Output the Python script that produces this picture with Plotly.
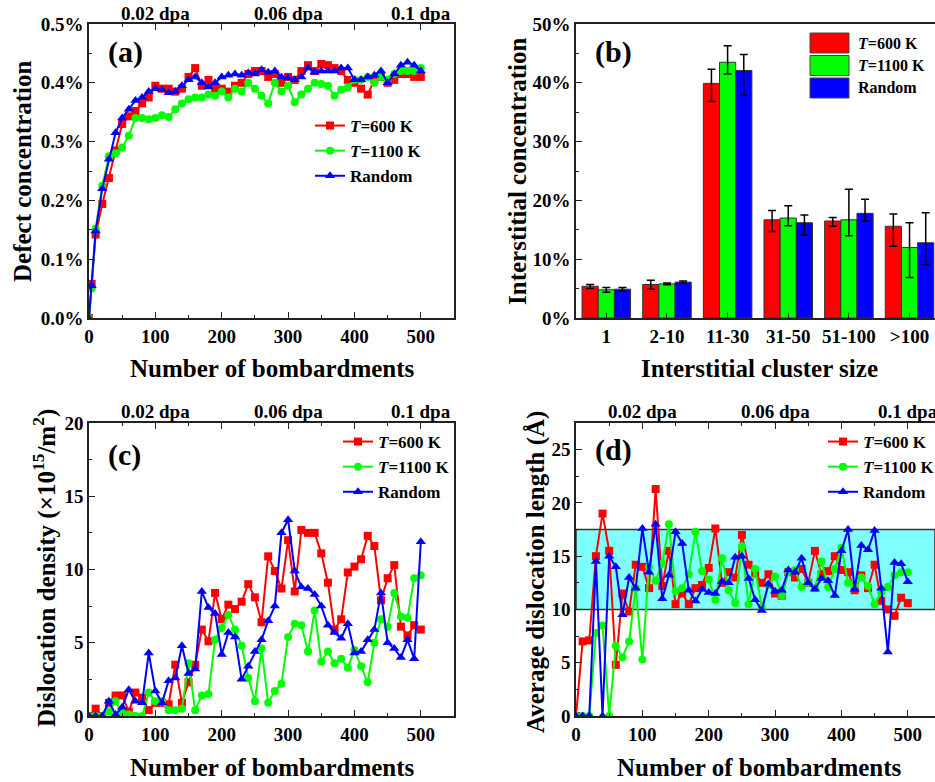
import plotly.graph_objects as go

W, H = 935, 782
FONT = "Liberation Serif"
RED, GREEN, BLUE = "#FF0000", "#00FF00", "#0000FF"

# ---------------- data ----------------
# (a) defect concentration (%), bombardments
n_a = [0, 4] + list(range(10, 501, 10))
red_a = [0.0, 0.058, 0.142, 0.194, 0.238, 0.285, 0.33, 0.343, 0.352, 0.365, 0.375, 0.395,
         0.39, 0.39, 0.385, 0.39, 0.41, 0.425, 0.395, 0.405, 0.39, 0.39,
         0.385, 0.395, 0.40, 0.415, 0.42, 0.42, 0.41, 0.415, 0.40, 0.41,
         0.405, 0.42, 0.43, 0.42, 0.432, 0.43, 0.425, 0.42, 0.405, 0.40,
         0.39, 0.38, 0.405, 0.41, 0.40, 0.405, 0.415, 0.415, 0.41, 0.41]
green_a = [0.0, 0.05, 0.152, 0.225, 0.275, 0.28, 0.29, 0.31, 0.34, 0.34, 0.338, 0.34,
           0.345, 0.342, 0.355, 0.365, 0.372, 0.375, 0.375, 0.38, 0.378, 0.385,
           0.375, 0.39, 0.385, 0.40, 0.39, 0.378, 0.365, 0.40, 0.385, 0.395,
           0.367, 0.38, 0.39, 0.40, 0.398, 0.395, 0.378, 0.388, 0.392, 0.405,
           0.405, 0.41, 0.40, 0.41, 0.405, 0.415, 0.42, 0.42, 0.42, 0.425]
blue_a = [0.0, 0.055, 0.148, 0.22, 0.27, 0.315, 0.34, 0.355, 0.37, 0.375, 0.385, 0.39,
          0.388, 0.383, 0.385, 0.395, 0.405, 0.41, 0.40, 0.393, 0.40, 0.41,
          0.413, 0.415, 0.413, 0.417, 0.415, 0.422, 0.418, 0.42, 0.41, 0.408,
          0.405, 0.41, 0.425, 0.418, 0.42, 0.42, 0.42, 0.425, 0.425, 0.405,
          0.405, 0.41, 0.413, 0.42, 0.40, 0.415, 0.43, 0.435, 0.43, 0.42]

# (b) interstitial concentration (%) by cluster size
cats_b = ["1", "2-10", "11-30", "31-50", "51-100", ">100"]
red_b = [5.4, 5.7, 39.9, 16.7, 16.5, 15.6]
red_b_up = [0.3, 0.7, 2.4, 1.6, 0.6, 2.1]
red_b_dn = [0.4, 0.8, 3.1, 2.0, 0.9, 3.4]
green_b = [4.8, 5.8, 43.5, 17.0, 16.7, 12.0]
green_b_up = [0.4, 0.15, 2.8, 2.1, 5.2, 4.2]
green_b_dn = [0.4, 0.15, 2.0, 1.3, 2.7, 5.1]
blue_b = [4.9, 6.1, 42.1, 16.2, 17.8, 12.8]
blue_b_up = [0.3, 0.2, 2.7, 1.3, 2.4, 5.1]
blue_b_dn = [0.3, 0.2, 4.2, 2.1, 1.3, 3.7]

# (c) dislocation density, (d) average dislocation length
n_cd = list(range(0, 501, 10))
red_c = [0, 0.5, 0.0, 0.9, 1.4, 1.4, 0.3, 1.6, 1.25, 0.4, 0.9,
         0.9, 0.8, 3.5, 0.9, 2.3, 3.5, 5.9, 5.1, 8.4, 6.6,
         7.6, 7.3, 7.8, 9.0, 8.1, 6.4, 10.9, 9.9, 8.7, 12.0,
         8.5, 12.7, 12.5, 12.5, 11.1, 9.1, 5.9, 6.6, 9.8, 10.2,
         10.7, 12.3, 11.6, 7.9, 9.4, 10.3, 6.1, 5.5, 6.2, 5.9]
green_c = [0, 0, 0, 0.3, 1.0, 0.2, 0.1, 0, 0, 1.6, 1.0,
           1.0, 0.4, 0.4, 0.5, 3.6, 0.4, 1.4, 1.5, 5.2, 6.0,
           6.9, 5.9, 4.8, 2.6, 1.0, 4.6, 0.9, 1.7, 2.2, 5.4,
           6.3, 6.2, 4.4, 7.2, 3.7, 4.4, 3.6, 3.9, 3.3, 4.5,
           3.4, 2.3, 5.0, 6.6, 6.1, 8.4, 6.8, 6.7, 9.4, 9.6]
blue_c = [0, 0, 0, 1.0, 0.1, 0.6, 1.8, 1.0, 0.9, 4.3, 1.7,
          0.9, 2.4, 2.6, 4.8, 2.9, 3.2, 8.5, 7.4, 7.0, 4.2,
          5.7, 5.4, 2.5, 3.4, 4.4, 5.2, 6.5, 7.5, 12.5, 13.4,
          9.9, 8.8, 8.7, 8.3, 7.5, 6.2, 5.7, 5.3, 6.3, 4.3,
          4.4, 5.2, 5.9, 8.4, 5.0, 4.6, 4.0, 5.2, 3.9, 11.9]
red_d = [0, 7.0, 7.1, 15.0, 19.0, 15.5, 4.8, 11.5, 9.8, 14.2, 14.0,
         12.0, 21.3, 12.2, 15.5, 10.5, 11.5, 10.5, 12.0, 12.3, 13.9,
         17.6, 12.5, 13.5, 13.0, 17.0, 14.2, 13.4, 12.5, 13.3, 11.5,
         11.3, 13.5, 13.0, 13.8, 12.5, 15.5, 13.3, 13.6, 15.0, 13.7,
         13.5, 11.8, 13.2, 12.0, 14.2, 10.8, 10.0, 9.4, 11.1, 10.6]
green_d = [0, 0, 0, 7.8, 8.5, 0, 6.6, 5.5, 7.0, 12.0, 5.3,
           14.0, 12.7, 14.3, 18.0, 11.7, 12.0, 13.3, 17.3, 13.6, 12.8,
           10.9, 14.8, 11.8, 10.6, 15.9, 10.5, 13.8, 10.2, 12.3, 13.1,
           11.3, 13.5, 13.7, 12.1, 12.5, 12.0, 14.5, 12.1, 13.8, 15.8,
           12.5, 12.2, 13.0, 12.2, 10.5, 11.6, 12.1, 13.2, 13.5, 13.5]
blue_d = [0, 0, 0, 14.5, 0, 15.0, 14.0, 9.5, 13.0, 12.0, 17.6,
          13.5, 18.0, 11.0, 13.2, 17.3, 16.2, 11.8, 10.8, 11.9, 11.6,
          11.5, 12.6, 12.5, 14.9, 15.0, 12.9, 10.9, 9.9, 12.4, 11.7,
          11.8, 13.7, 13.5, 14.8, 12.5, 11.9, 12.9, 12.7, 11.3, 15.5,
          17.5, 11.9, 16.0, 15.6, 17.4, 12.0, 6.0, 14.4, 14.3, 12.6]
band_low, band_high = 10, 17.5

dpa_ticks = [100, 300, 500]
dpa_labels = ["0.02 dpa", "0.06 dpa", "0.1 dpa"]
series_names = ["<b><i>T</i>=600 K</b>", "<b><i>T</i>=1100 K</b>", "<b>Random</b>"]

# ---------------- helpers ----------------
def fx(p):
    return p / W

def fy(p):
    return 1 - p / H

fig = go.Figure()

def add_lines(xs, ys_list, xa, ya, legend):
    syms = ["square", "circle", "triangle-up"]
    sizes = [8, 8, 9]
    for ys, col, sym, sz, nm in zip(ys_list, [RED, GREEN, BLUE], syms, sizes, series_names):
        fig.add_trace(go.Scatter(
            x=xs, y=ys, mode="lines+markers", name=nm,
            line=dict(color=col, width=2),
            marker=dict(symbol=sym, size=sz, color=col, line=dict(width=0)),
            xaxis=xa, yaxis=ya, legend=legend, cliponaxis=True))

add_lines(n_a, [red_a, green_a, blue_a], "x", "y", "legend")
add_lines(n_cd, [red_c, green_c, blue_c], "x3", "y3", "legend2")
add_lines(n_cd, [red_d, green_d, blue_d], "x4", "y4", "legend3")

for vals, up, dn, col, nm in [(red_b, red_b_up, red_b_dn, RED, "T=600 K"),
                              (green_b, green_b_up, green_b_dn, GREEN, "T=1100 K"),
                              (blue_b, blue_b_up, blue_b_dn, BLUE, "Random")]:
    fig.add_trace(go.Bar(
        x=cats_b, y=vals, name=nm, showlegend=False,
        marker=dict(color=col, line=dict(color="#333333", width=1)),
        error_y=dict(type="data", symmetric=False, array=up, arrayminus=dn,
                     color="black", thickness=1.5, width=4),
        xaxis="x2", yaxis="y2"))

tickfont = dict(family=FONT, size=19, color="black", weight="bold")
base = dict(showline=True, linecolor="#222222", linewidth=1.5, ticks="inside",
            ticklen=6, tickwidth=1.3, tickcolor="#222222", showgrid=False,
            zeroline=False, tickfont=tickfont, fixedrange=True, automargin=False)

def xnum(domain, rng):
    d = dict(base)
    d.update(domain=domain, range=rng, dtick=100, tick0=0, mirror="ticks",
             minor=dict(dtick=50, tick0=0, ticks="inside", ticklen=3, tickcolor="#222222"))
    return d

def ynum(domain, rng, dtick, minor, mirror, **kw):
    d = dict(base)
    d.update(domain=domain, range=rng, dtick=dtick, tick0=0, mirror=mirror,
             minor=dict(dtick=minor, tick0=0, ticks="inside", ticklen=3, tickcolor="#222222"))
    d.update(kw)
    return d

dom_top = [fy(318), fy(24)]
dom_bot = [fy(716), fy(423)]
dom_left = [fx(89), fx(454)]
dom_right = [fx(576), 1.0]

xb = dict(base)
xb.update(domain=dom_right, range=[-0.5, 5.42], mirror=True, ticklen=5)

fig.update_layout(
    template="none",
    width=W, height=H, margin=dict(l=0, r=0, t=0, b=0, autoexpand=False),
    paper_bgcolor="white", plot_bgcolor="white",
    font=dict(family=FONT, color="black"),
    barmode="group", bargap=0.2, bargroupgap=0,
    xaxis=xnum(dom_left, [0, 550]),
    yaxis=ynum(dom_top, [0, 0.5], 0.1, 0.05, True, tickformat=".1f", ticksuffix="%"),
    xaxis2=dict(xb, anchor="y2"),
    yaxis2=ynum(dom_top, [0, 50], 10, 5, False, ticksuffix="%", anchor="x2"),
    xaxis3=dict(xnum(dom_left, [0, 550]), anchor="y3"),
    yaxis3=ynum(dom_bot, [0, 20], 5, 2.5, True, anchor="x3"),
    xaxis4=dict(xnum(dom_right, [0, 541]), anchor="y4"),
    yaxis4=ynum(dom_bot, [0, 27.5], 5, 2.5, False, anchor="x4"),
)

legfont = dict(family=FONT, size=17, color="black")
leg = dict(bgcolor="rgba(0,0,0,0)", borderwidth=0, font=legfont, xanchor="left",
           yanchor="top", tracegroupgap=0, itemclick=False)
fig.update_layout(
    legend=dict(leg, x=fx(310), y=fy(108)),
    legend2=dict(leg, x=fx(338), y=fy(424), font=dict(legfont, size=17)),
    legend3=dict(leg, x=fx(823), y=fy(424), font=dict(legfont, size=17)),
)

ann = []
def text(x, y, s, size, xref="paper", yref="paper", angle=0, xanchor="center", yanchor="middle"):
    ann.append(dict(x=x, y=y, xref=xref, yref=yref, text=s, showarrow=False,
                    textangle=angle, xanchor=xanchor, yanchor=yanchor,
                    font=dict(family=FONT, size=size, color="black")))

# panel labels
text(fx(106), fy(52), "<b>(a)</b>", 30, xanchor="left")
text(fx(593), fy(52), "<b>(b)</b>", 30, xanchor="left")
text(fx(106), fy(455), "<b>(c)</b>", 30, xanchor="left")
text(fx(593), fy(450), "<b>(d)</b>", 30, xanchor="left")

# top dpa labels
for xr, yp in [("x", 13), ("x3", 412), ("x4", 412)]:
    for t, lab in zip(dpa_ticks, dpa_labels):
        text(t, fy(yp), "<b>%s</b>" % lab, 19, xref=xr)

# axis titles
TS = 25
text(fx(272), fy(368), "<b>Number of bombardments</b>", TS)
text(fx(759), fy(368), "<b>Interstitial cluster size</b>", TS)
text(fx(272), fy(767), "<b>Number of bombardments</b>", TS)
text(fx(759), fy(767), "<b>Number of bombardments</b>", TS)
text(fx(22), fy(171), "<b>Defect concentration</b>", TS, angle=-90)
text(fx(517), fy(172), "<b>Interstitial concentration</b>", TS, angle=-90)
text(fx(44), fy(568), "<b>Dislocation density (×10<sup>15</sup>/m<sup>2</sup>)</b>", TS, angle=-90)
text(fx(536), fy(572), "<b>Average dislocation length (Å)</b>", TS, angle=-90)

# manual legend for bar chart (b)
shapes = []
for i, (col, nm) in enumerate(zip([RED, GREEN, BLUE], series_names)):
    top = 33 + i * 22.5
    shapes.append(dict(type="rect", xref="paper", yref="paper",
                       x0=fx(810), x1=fx(849), y0=fy(top + 20), y1=fy(top),
                       fillcolor=col, line=dict(color="#444444", width=1)))
    text(fx(856), fy(top + 10), nm, 16, xanchor="left")

# highlighted band in (d)
shapes.append(dict(type="rect", xref="x4 domain", yref="y4", x0=0, x1=1,
                   y0=band_low, y1=band_high, fillcolor="#80FFFF",
                   line=dict(color="#333333", width=1.5), layer="below"))

fig.update_layout(annotations=ann, shapes=shapes)
fig.write_html("out.html", config={"displayModeBar": False},
               post_script="document.body.style.margin='0';document.body.style.overflow='hidden';")
